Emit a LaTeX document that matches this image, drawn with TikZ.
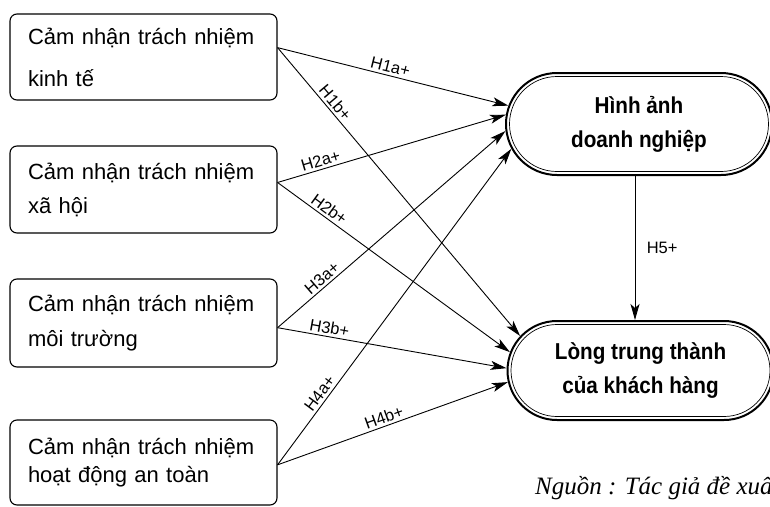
\documentclass[tikz,border=0pt]{standalone}
\usepackage{fontspec}
\setmainfont{Liberation Sans}
\newfontfamily\srcfont{Liberation Serif}
\newfontfamily\boldnarrow[FakeStretch=0.9,UprightFont=* Bold]{Liberation Sans}
\usetikzlibrary{shapes.misc,arrows.meta,calc}
\begin{document}
\begin{tikzpicture}[x=1pt,y=-1pt,
  lbox/.style 2 args={draw, line width=1.1pt, rounded corners=7pt,
    text width=231pt, inner xsep=18pt, inner ysep=0pt, align=left,
    minimum height=#1pt, font=\fontsize{22}{#2}\selectfont},
  stadout/.style={rounded rectangle, draw, line width=2pt,
    minimum width=266pt, minimum height=#1pt, inner sep=0pt},
  stadin/.style={rounded rectangle, draw, line width=0.7pt,
    minimum width=259pt, minimum height=#1pt, inner sep=0pt, align=center,
    font=\boldnarrow\fontsize{23}{34}\selectfont},
  arr/.style={line width=0.9pt, -{Stealth[length=16pt,width=9pt,inset=4pt]}},
  hl/.style={font=\fontsize{16.5}{16.5}\selectfont, sloped, above, inner sep=2.5pt},
  ]
\useasboundingbox (0,0) rectangle (770,506);
\fill[white] (0,0) rectangle (770,506);

\node[lbox={86}{42}] (b1) at (143.5,57) {Cảm nhận trách nhiệm\\kinh tế};
\node[lbox={87}{34}] (b2) at (143.5,189.5) {Cảm nhận trách nhiệm\\xã hội};
\node[lbox={88}{35}] (b3) at (143.5,323) {Cảm nhận trách nhiệm\\môi trường};
\node[lbox={85}{28}] (b4) at (143.5,462.5) {Cảm nhận trách nhiệm\\hoạt động an toàn};

\node[stadout=102] (img) at (639,124) {};
\node[stadin=95] (imgt) at (img.center) {Hình ảnh\\doanh nghiệp};
\node[stadout=99] (loy) at (640.5,370.5) {};
\node[stadin=92] (loyt) at (loy.center) {Lòng trung thành\\của khách hàng};

\draw[arr] (b1.4) -- node[hl, pos=0.48]{H1a+} (img.172);
\draw[arr] (b1.4) -- node[hl, pos=0.21]{H1b+} (loy.164);
\draw[arr] (b2.3) -- node[hl, pos=0.2]{H2a+} (img.176);
\draw[arr] (b2.3) -- node[hl, pos=0.2]{H2b+} (loy.172);
\draw[arr] (b3.-2) -- node[hl, pos=0.22]{H3a+} (img.183);
\draw[arr] (b3.-2) -- node[hl, pos=0.22]{H3b+} (loy.179);
\draw[arr] (b4.-1) -- node[hl, pos=0.21]{H4a+} (img.191);
\draw[arr] (b4.-1) -- node[hl, pos=0.475]{H4b+} (loy.185);
\draw[arr] ([xshift=-4pt]img.south) -- node[right=8pt, font=\fontsize{16.5}{16.5}\selectfont]{H5+} ([xshift=-5.5pt]loy.north);

\node[anchor=base west, inner sep=0pt, font=\srcfont\itshape\fontsize{25}{25}\selectfont] (src) at (535,494) {Nguồn : Tác giả đề xuất};
\end{tikzpicture}
\end{document}
